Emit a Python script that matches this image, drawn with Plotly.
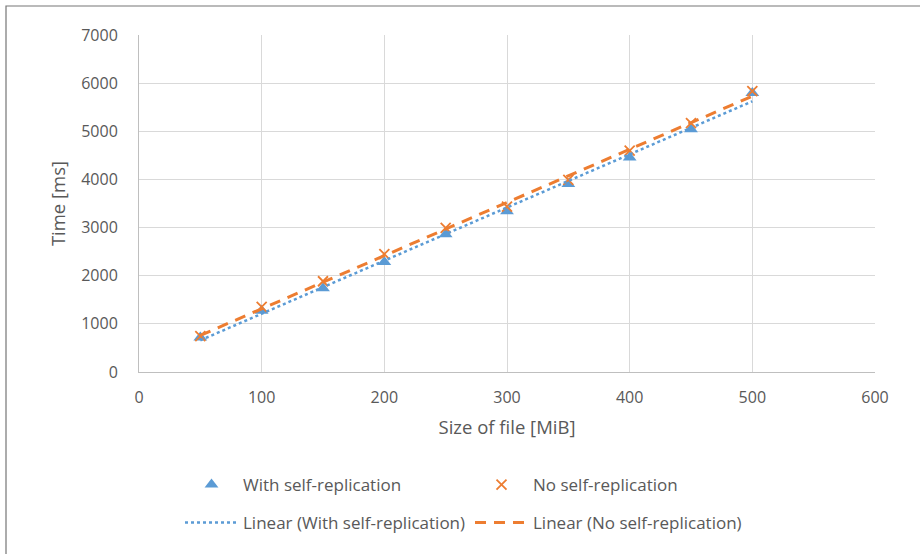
import numpy as np
import plotly.graph_objects as go

size_mib = [50, 100, 150, 200, 250, 300, 350, 400, 450, 500]
with_repl = [715, 1270, 1740, 2287, 2860, 3340, 3903, 4455, 5042, 5795]
no_repl = [745, 1355, 1885, 2450, 2995, 3435, 3990, 4597, 5170, 5833]

x_ticks = [0, 100, 200, 300, 400, 500, 600]
y_ticks = [0, 1000, 2000, 3000, 4000, 5000, 6000, 7000]

BLUE = "#5B9BD5"
ORANGE = "#ED7D31"
TXT = "#595959"
GRID = "#D9D9D9"
FONT = "Open Sans"

W, H = 920, 554
L, R, T, B = 139, 45, 35, 182

xs = np.array(size_mib, dtype=float)
c1 = np.polyfit(xs, with_repl, 1)
c2 = np.polyfit(xs, no_repl, 1)
fit_x = [size_mib[0], size_mib[-1]]

fig = go.Figure()
fig.add_trace(go.Scatter(x=size_mib, y=with_repl, mode="markers", name="With self-replication",
                         marker=dict(symbol="triangle-up", size=12, color=BLUE), legend="legend"))
fig.add_trace(go.Scatter(x=size_mib, y=no_repl, mode="markers", name="No self-replication",
                         marker=dict(symbol="x-thin", size=10, color=ORANGE, line=dict(color=ORANGE, width=1.8)),
                         legend="legend"))
fig.add_trace(go.Scatter(x=fit_x, y=list(np.polyval(c1, fit_x)), mode="lines",
                         name="Linear (With self-replication)",
                         line=dict(color=BLUE, width=2.5, dash="dot"), legend="legend2"))
fig.add_trace(go.Scatter(x=fit_x, y=list(np.polyval(c2, fit_x)), mode="lines",
                         name="Linear (No self-replication)",
                         line=dict(color=ORANGE, width=3, dash="11px,8px"), legend="legend2"))

pw = W - L - R
ph = H - T - B
def px_x(p):
    return (p - L) / pw
def px_y(p):
    return (H - B - p) / ph

fig.add_shape(type="rect", xref="paper", yref="paper",
              x0=px_x(6), y0=px_y(620), x1=px_x(1000), y1=px_y(6),
              line=dict(color="#767676", width=1.2), fillcolor="rgba(0,0,0,0)", layer="below")

leg_common = dict(orientation="h", xanchor="left", yanchor="top",
                  entrywidth=222, entrywidthmode="pixels", font=dict(size=17, color=TXT),
                  itemwidth=53, bgcolor="rgba(0,0,0,0)")

fig.update_layout(
    width=W, height=H,
    margin=dict(l=L, r=R, t=T, b=B),
    paper_bgcolor="white", plot_bgcolor="white",
    font=dict(family=FONT, size=16, color=TXT),
    showlegend=True,
    legend=dict(x=px_x(180), y=px_y(467), **leg_common),
    legend2=dict(x=px_x(180), y=px_y(505), **leg_common),
    xaxis=dict(range=[0, 600], tickvals=x_ticks, showgrid=True, gridcolor=GRID, gridwidth=1,
               showline=True, linecolor="#BFBFBF", linewidth=1, zeroline=False,
               ticks="", ticklabelstandoff=11, tickfont=dict(size=16, color=TXT),
               title=dict(text="Size of file [MiB]", font=dict(size=18.5, color=TXT), standoff=13)),
    yaxis=dict(range=[0, 7000], tickvals=y_ticks, showgrid=True, gridcolor=GRID, gridwidth=1,
               showline=True, linecolor="#BFBFBF", linewidth=1, zeroline=False,
               ticks="", ticklabelstandoff=17, tickfont=dict(size=16, color=TXT),
               title=dict(text="Time [ms]", font=dict(size=18.5, color=TXT), standoff=10)),
)

fig.write_html("out.html")
